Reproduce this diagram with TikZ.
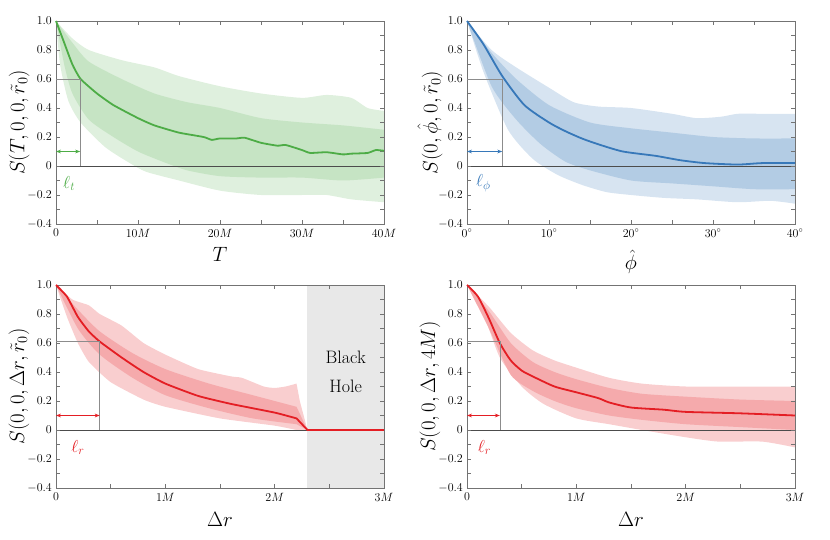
\documentclass[tikz,border=0pt]{standalone}
\usetikzlibrary{arrows.meta}
\definecolor{cg}{RGB}{77,172,70}
\definecolor{cb}{RGB}{55,120,185}
\definecolor{cr}{RGB}{228,30,36}
\tikzset{
  frm/.style={draw=black!55,line width=0.6pt},
  tck/.style={draw=black!55,line width=0.6pt},
  zl/.style={draw=black!70,line width=0.7pt},
  guide/.style={draw=black!45,line width=0.6pt},
  meanln/.style={line width=1.8pt},
  ticklab/.style={font=\fontsize{12}{13}\selectfont,inner sep=1pt},
  axlab/.style={font=\fontsize{22}{24}\selectfont,inner sep=0pt},
  elllab/.style={font=\fontsize{18}{20}\selectfont,inner sep=0pt},
  larr/.style={{Stealth[length=5pt]}-{Stealth[length=5pt]},line width=0.9pt},
}
\newcommand\myaxes[2]{%
  \draw[zl] (0,0) -- (#1,0);
  \foreach \yy in {-0.3,-0.2,...,0.95}{
    \draw[tck] (0,\yy) -- ++(4pt,0); \draw[tck] (#1,\yy) -- ++(-4pt,0);}
  \foreach \xx in {#2}{
    \draw[tck] (\xx,-0.4) -- ++(0,4pt); \draw[tck] (\xx,1) -- ++(0,-4pt);}
  \draw[frm] (0,-0.4) rectangle (#1,1);
  \foreach \yy/\lab in {1/1.0,0.8/0.8,0.6/0.6,0.4/0.4,0.2/0.2,0/0,-0.2/$-0.2$,-0.4/$-0.4$}
    \node[ticklab,anchor=east] at ([xshift=-3pt]0,\yy) {\lab};
}
\begin{document}
\begin{tikzpicture}[x=1pt,y=1pt]
\useasboundingbox (0,0) rectangle (830,539);
% ---------------- TL
\begin{scope}[shift={(56,373)},x=8.2pt,y=145pt]
\fill[cg!18] plot[smooth,tension=0.4] coordinates {(0,1)(2,0.88)(4,0.8)(8,0.73)(12,0.68)(15,0.62)(20,0.55)(25,0.5)(30,0.47)(33,0.49)(36,0.47)(38,0.4)(40,0.38)} -- plot[smooth,tension=0.4] coordinates {(40,-0.25)(36,-0.23)(33,-0.2)(30,-0.2)(25,-0.2)(20,-0.17)(15,-0.1)(11,-0.04)(9,0.02)(6,0.13)(3,0.3)(1.5,0.45)(0.5,0.7)(0,1)} -- cycle;
\fill[cg!32] plot[smooth,tension=0.4] coordinates {(0,1)(2,0.85)(4,0.72)(8,0.6)(12,0.5)(16,0.44)(20,0.4)(25,0.33)(30,0.3)(35,0.28)(40,0.25)} -- plot[smooth,tension=0.4] coordinates {(40,-0.08)(35,-0.1)(30,-0.08)(25,-0.08)(20,-0.07)(16,-0.03)(13,0.03)(10,0.1)(7,0.2)(4,0.32)(2,0.5)(1,0.7)(0,1)} -- cycle;
\myaxes{40}{5,10,...,35}
\draw[cg,meanln] plot[smooth,tension=0.3] coordinates {(0,1)(1,0.85)(2,0.7)(3,0.6)(5,0.5)(7,0.42)(10,0.33)(12,0.28)(15,0.23)(18,0.2)(19,0.18)(20,0.19)(22,0.19)(23,0.195)(25,0.16)(27,0.14)(28,0.145)(30,0.11)(31,0.09)(33,0.095)(35,0.08)(36,0.085)(38,0.09)(39,0.11)(40,0.105)};
\coordinate (tla) at (0,0.1); \coordinate (tlb) at (2.95,0.1);
\draw[guide] (0,0.6) -| (2.95,0);
\draw[larr,cg] (tla) -- (tlb);
\node[elllab,text=cg] (tlell) at (1.6,-0.12) {$\ell_t$};
\foreach \xx/\lab in {0/0,10/10M,20/20M,30/30M,40/40M}
  \node[ticklab,anchor=north] at ([yshift=-4pt]\xx,-0.4) {$\lab$};
\node[axlab] (tlx) at (20,-0.61) {$T$};
\node[axlab,rotate=90] (tly) at (-4.5,0.3) {$S(T,0,0,\tilde r_0)$};
\end{scope}
% ---------------- TR
\begin{scope}[shift={(467,373)},x=8.2pt,y=145pt]
\fill[cb!20] plot[smooth,tension=0.4] coordinates {(0,1)(3,0.8)(6,0.68)(10,0.54)(13,0.44)(16,0.41)(20,0.4)(25,0.36)(28,0.33)(31,0.34)(33,0.36)(36,0.36)(40,0.36)} -- plot[smooth,tension=0.4] coordinates {(40,-0.26)(37,-0.24)(33,-0.25)(28,-0.23)(24,-0.22)(20,-0.2)(17,-0.18)(14,-0.13)(11,-0.06)(8,0.05)(5,0.25)(2,0.65)(0,1)} -- cycle;
\fill[cb!38] plot[smooth,tension=0.4] coordinates {(0,1)(3,0.78)(6,0.6)(10,0.42)(15,0.3)(20,0.26)(25,0.23)(30,0.2)(35,0.19)(40,0.19)} -- plot[smooth,tension=0.4] coordinates {(40,-0.16)(35,-0.16)(30,-0.14)(25,-0.12)(20,-0.1)(15,-0.03)(12,0.03)(9,0.15)(6,0.32)(3,0.55)(0,1)} -- cycle;
\myaxes{40}{5,10,...,35}
\draw[cb,meanln] plot[smooth,tension=0.4] coordinates {(0,1)(2,0.84)(4.3,0.62)(7,0.42)(10,0.3)(12,0.24)(14,0.19)(16,0.15)(19,0.1)(23,0.07)(26,0.04)(29,0.02)(33,0.01)(36,0.02)(40,0.02)};
\coordinate (tra) at (0,0.1); \coordinate (trb) at (4.3,0.1);
\draw[guide] (0,0.6) -| (4.3,0);
\draw[larr,cb] (tra) -- (trb);
\node[elllab,text=cb] (trell) at (2,-0.12) {$\ell_\phi$};
\foreach \xx in {0,10,20,30,40}
  \node[ticklab,anchor=north] at ([yshift=-4pt]\xx,-0.4) {$\xx^\circ$};
\node[axlab] (trxl) at (20,-0.66) {$\hat\phi$};
\node[axlab,rotate=90] (try) at (-4.5,0.3) {$S(0,\hat\phi,0,\tilde r_0)$};
\end{scope}
% ---------------- BL
\begin{scope}[shift={(56,109)},x=109.33pt,y=145pt]
\fill[black!9] (2.3,-0.4) rectangle (3,1);
\fill[cr!22] plot[smooth,tension=0.3] coordinates {(0,1)(0.15,0.9)(0.3,0.86)(0.4,0.8)(0.6,0.72)(0.8,0.6)(1,0.52)(1.3,0.42)(1.6,0.37)(1.7,0.36)(1.9,0.3)(2,0.29)(2.1,0.3)(2.2,0.32)} -- (2.23,0.2) -- (2.3,0) -- plot[smooth,tension=0.3] coordinates {(2.2,0.0)(2,0.03)(1.5,0.08)(1,0.16)(0.8,0.21)(0.5,0.33)(0.3,0.47)(0.2,0.6)(0.1,0.78)(0,1)} -- cycle;
\fill[cr!38] plot[smooth,tension=0.4] coordinates {(0,1)(0.2,0.83)(0.4,0.68)(0.7,0.53)(1,0.42)(1.4,0.32)(1.8,0.24)(2.2,0.16)} -- (2.3,0) -- plot[smooth,tension=0.4] coordinates {(2.2,0.04)(1.8,0.08)(1.4,0.15)(1,0.24)(0.7,0.36)(0.4,0.52)(0.2,0.7)(0,1)} -- cycle;
\myaxes{3}{0.5,1,...,2.5}
\draw[cr,meanln] plot[smooth,tension=0.3] coordinates {(0,1)(0.1,0.92)(0.2,0.78)(0.3,0.68)(0.4,0.61)(0.6,0.5)(0.8,0.4)(1,0.32)(1.3,0.235)(1.6,0.18)(2,0.12)(2.2,0.08)} -- (2.3,0) -- (3,0);
\coordinate (bla) at (0,0.1); \coordinate (blb) at (0.4,0.1);
\draw[guide] (0,0.61) -| (0.4,0);
\draw[larr,cr] (bla) -- (blb);
\node[elllab,text=cr] (blell) at (0.2,-0.12) {$\ell_r$};
\node[align=center,font=\fontsize{18}{29}\selectfont] (bh) at (2.65,0.4) {Black\\Hole};
\foreach \xx/\lab in {0/0,1/1M,2/2M,3/3M}
  \node[ticklab,anchor=north] at ([yshift=-4pt]\xx,-0.4) {$\lab$};
\node[axlab] (blxl) at (1.5,-0.62) {$\Delta r$};
\node[axlab,rotate=90] (bly) at (-0.34,0.3) {$S(0,0,\Delta r,\tilde r_0)$};
\end{scope}
% ---------------- BR
\begin{scope}[shift={(467,109)},x=109.33pt,y=145pt]
\fill[cr!22] plot[smooth,tension=0.4] coordinates {(0,1)(0.2,0.85)(0.4,0.67)(0.6,0.55)(0.8,0.48)(1,0.43)(1.3,0.36)(1.6,0.32)(2,0.3)(2.5,0.3)(3,0.3)} -- plot[smooth,tension=0.4] coordinates {(3,-0.12)(2.7,-0.08)(2.3,-0.08)(2,-0.05)(1.6,0.0)(1.3,0.04)(1,0.08)(0.7,0.18)(0.5,0.3)(0.3,0.5)(0.15,0.8)(0,1)} -- cycle;
\fill[cr!38] plot[smooth,tension=0.4] coordinates {(0,1)(0.2,0.82)(0.4,0.6)(0.6,0.47)(0.8,0.4)(1,0.35)(1.3,0.29)(1.6,0.25)(2,0.23)(2.5,0.21)(3,0.2)} -- plot[smooth,tension=0.4] coordinates {(3,0)(2.5,0.02)(2,0.04)(1.6,0.07)(1.3,0.1)(1,0.15)(0.8,0.2)(0.6,0.27)(0.4,0.38)(0.2,0.7)(0,1)} -- cycle;
\myaxes{3}{0.5,1,...,2.5}
\draw[cr,meanln] plot[smooth,tension=0.4] coordinates {(0,1)(0.1,0.92)(0.2,0.77)(0.3,0.6)(0.4,0.48)(0.5,0.41)(0.6,0.37)(0.8,0.3)(1,0.26)(1.2,0.22)(1.3,0.19)(1.5,0.155)(1.8,0.14)(2,0.125)(2.5,0.115)(3,0.1)};
\coordinate (bra) at (0,0.1); \coordinate (brb) at (0.3,0.1);
\draw[guide] (0,0.61) -| (0.3,0);
\draw[larr,cr] (bra) -- (brb);
\node[elllab,text=cr] (brell) at (0.16,-0.12) {$\ell_r$};
\foreach \xx/\lab in {0/0,1/1M,2/2M,3/3M}
  \node[ticklab,anchor=north] at ([yshift=-4pt]\xx,-0.4) {$\lab$};
\node[axlab] (brxl) at (1.5,-0.62) {$\Delta r$};
\node[axlab,rotate=90] (bry) at (-0.34,0.3) {$S(0,0,\Delta r,4M)$};
\end{scope}
\end{tikzpicture}
\end{document}
